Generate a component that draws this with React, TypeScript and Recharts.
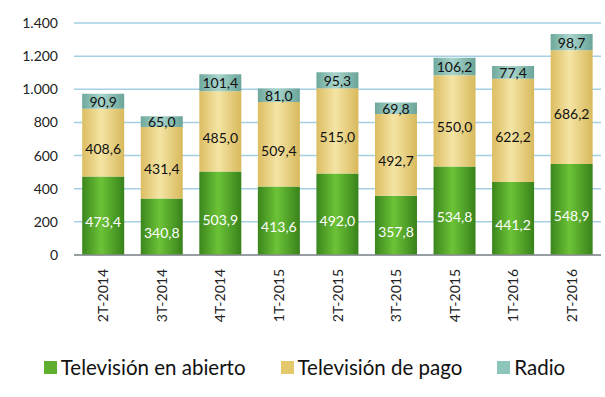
import React from "react";
import {
  BarChart,
  Bar,
  XAxis,
  YAxis,
  CartesianGrid,
  Legend,
  LabelList,
} from "recharts";

const categories = [
  "2T-2014",
  "3T-2014",
  "4T-2014",
  "1T-2015",
  "2T-2015",
  "3T-2015",
  "4T-2015",
  "1T-2016",
  "2T-2016",
];
const abierto = [473.4, 340.8, 503.9, 413.6, 492.0, 357.8, 534.8, 441.2, 548.9];
const pago = [408.6, 431.4, 485.0, 509.4, 515.0, 492.7, 550.0, 622.2, 686.2];
const radio = [90.9, 65.0, 101.4, 81.0, 95.3, 69.8, 106.2, 77.4, 98.7];
const yTicks = [0, 200, 400, 600, 800, 1000, 1200, 1400];

const seriesNames = ["Televisión en abierto", "Televisión de pago", "Radio"];
const legendColors = ["#5fae2e", "#e3c96b", "#8cc5b9"];

const data = categories.map((c, i) => ({
  name: c,
  abierto: abierto[i],
  pago: pago[i],
  radio: radio[i],
}));

const FONT = "Lato, 'Noto Sans', sans-serif";

// 1.400 style thousands, 473,4 style decimals
const fmtTick = (v: number) =>
  String(v).replace(/\B(?=(\d{3})+(?!\d))/g, ".");
const fmtVal = (v: number) => v.toFixed(1).replace(".", ",");

const makeLabel = (fill: string, dy: number) => (props: any) => {
  const { x, y, width, height, value } = props;
  return (
    <text
      x={x + width / 2}
      y={y + height / 2 + dy}
      fill={fill}
      textAnchor="middle"
      dominantBaseline="central"
      fontSize={14}
      fontFamily={FONT}
    >
      {fmtVal(value)}
    </text>
  );
};

const XTick = (props: any) => {
  const { x, y, payload } = props;
  return (
    <text
      transform={`translate(${x + 5},${y + 6}) rotate(-90)`}
      textAnchor="end"
      fill="#222"
      fontSize={14}
      fontFamily={FONT}
    >
      {payload.value}
    </text>
  );
};

const LegendContent = () => (
  <div
    style={{
      height: 30,
      display: "flex",
      alignItems: "center",
      justifyContent: "center",
      fontFamily: FONT,
      fontSize: 20.5,
      color: "#111",
      paddingLeft: 8,
    }}
  >
    {seriesNames.map((n, i) => (
      <div
        key={n}
        style={{ display: "flex", alignItems: "center", marginRight: i < 2 ? 35 : 0 }}
      >
        <span
          style={{
            width: 13,
            height: 13,
            background: legendColors[i],
            marginRight: 4,
            display: "inline-block",
          }}
        />
        <span>{n}</span>
      </div>
    ))}
  </div>
);

export default function App() {
  return (
    <div style={{ position: "fixed", left: 0, top: 0, width: 605, height: 397, background: "#fff" }}>
      <BarChart
        width={605}
        height={397}
        data={data}
        margin={{ top: 23, right: 4, bottom: 15, left: 0 }}
        barCategoryGap="14%"
      >
        <defs>
          <linearGradient id="gGreen" x1="0" y1="0" x2="1" y2="0">
            <stop offset="0" stopColor="#3b861d" />
            <stop offset="0.45" stopColor="#6cc337" />
            <stop offset="1" stopColor="#38821b" />
          </linearGradient>
          <linearGradient id="gYellow" x1="0" y1="0" x2="1" y2="0">
            <stop offset="0" stopColor="#dcbd62" />
            <stop offset="0.45" stopColor="#f4e4a4" />
            <stop offset="1" stopColor="#d8b95c" />
          </linearGradient>
          <linearGradient id="gTeal" x1="0" y1="0" x2="1" y2="0">
            <stop offset="0" stopColor="#6ea89c" />
            <stop offset="0.45" stopColor="#a9d5cc" />
            <stop offset="1" stopColor="#6aa498" />
          </linearGradient>
        </defs>
        <CartesianGrid vertical={false} stroke="#a5cfe3" strokeWidth={1.5} />
        <XAxis
          dataKey="name"
          interval={0}
          height={97}
          tick={<XTick />}
          tickLine={false}
          axisLine={{ stroke: "#8a8a8a", strokeWidth: 1.5 }}
        />
        <YAxis
          width={74}
          domain={[0, 1400]}
          ticks={yTicks}
          tickFormatter={fmtTick}
          tickLine={false}
          axisLine={false}
          tickMargin={10}
          tick={{ fill: "#222", fontSize: 14, fontFamily: FONT }}
        />
        <Legend verticalAlign="bottom" content={<LegendContent />} />
        <Bar dataKey="abierto" stackId="a" fill="url(#gGreen)" isAnimationActive={false}>
          <LabelList dataKey="abierto" content={makeLabel("#ffffff", 6)} />
        </Bar>
        <Bar dataKey="pago" stackId="a" fill="url(#gYellow)" isAnimationActive={false}>
          <LabelList dataKey="pago" content={makeLabel("#111", 6)} />
        </Bar>
        <Bar dataKey="radio" stackId="a" fill="url(#gTeal)" isAnimationActive={false}>
          <LabelList dataKey="radio" content={makeLabel("#111", 0)} />
        </Bar>
      </BarChart>
    </div>
  );
}
